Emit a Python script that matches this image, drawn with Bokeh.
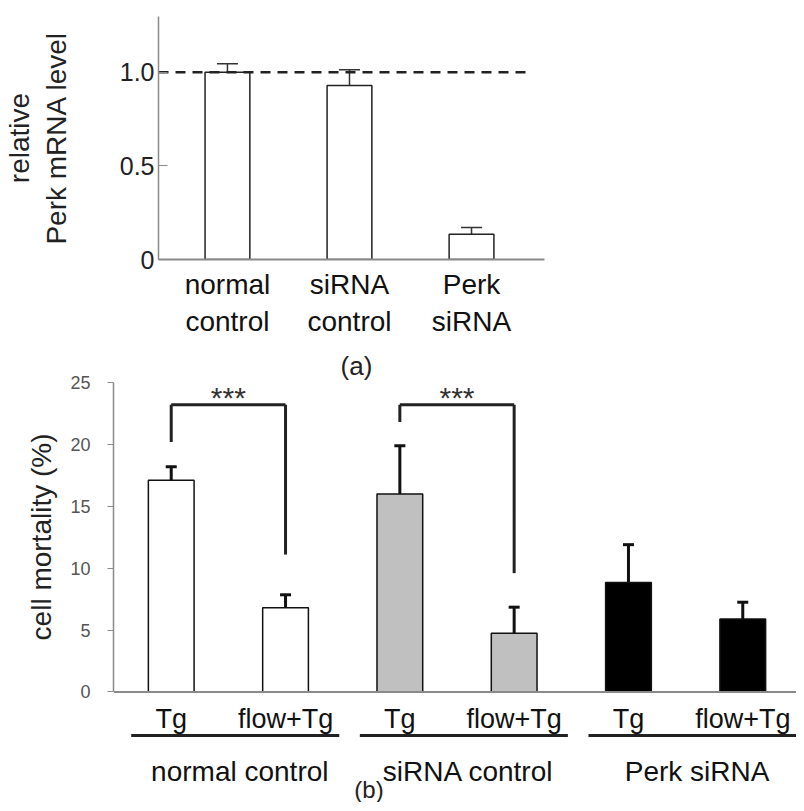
from bokeh.plotting import figure
from bokeh.models import Range1d, FixedTicker, Whisker, TeeHead, ColumnDataSource, Span, Title
from bokeh.embed import file_html
from bokeh.resources import INLINE
from bokeh.core.properties import value

# ---------------- data: panel (a) ----------------
a_categories = ["normal\ncontrol", "siRNA\ncontrol", "Perk\nsiRNA"]
a_values = [1.0, 0.93, 0.135]
a_err_upper = [1.045, 1.014, 0.171]
a_reference = 1.0
a_yticks = [0, 0.5, 1.0]
a_ytick_labels = ["0", "0.5", "1.0"]

# ---------------- data: panel (b) ----------------
b_groups = ["normal control", "siRNA control", "Perk siRNA"]
b_treatments = ["Tg", "flow+Tg"]
b_values = [17.1, 6.8, 16.0, 4.75, 8.85, 5.9]
b_err_upper = [18.2, 7.85, 19.9, 6.85, 11.9, 7.25]
b_group_colors = ["white", "#c0c0c0", "black"]
b_yticks = [0, 5, 10, 15, 20, 25]
b_sig_pairs = [(0, 1), (2, 3)]
b_sig_left_bottom = [20.2, 21.8]
b_sig_right_bottom = [11.1, 9.6]
b_sig_top = 23.2
b_sig_label = "***"

FONT = "Liberation Sans"
AXIS_GRAY = "#8a8a8a"

# ================= panel (a) =================
a_x = list(range(len(a_categories)))
pa = figure(width=796, height=345, output_backend="svg", toolbar_location=None,
            x_range=Range1d(-0.565, 2.598), y_range=Range1d(0, 1.298),
            min_border_left=148, min_border_right=252, min_border_top=16,
            min_border_bottom=86)
pa.outline_line_color = None
pa.grid.visible = False
pa.background_fill_color = "white"
pa.border_fill_color = "white"

pa.vbar(x=a_x, top=a_values, width=0.367, fill_color="white",
        line_color="#222222", line_width=1.5)
src_a = ColumnDataSource(dict(base=a_x, lower=a_values, upper=a_err_upper))
pa.add_layout(Whisker(base="base", lower="lower", upper="upper", source=src_a,
                      line_color="#333333", line_width=1.5,
                      upper_head=TeeHead(size=21, line_color="#333333", line_width=1.5),
                      lower_head=None))
pa.segment(x0=[-0.565], y0=[a_reference], x1=[2.45], y1=[a_reference],
           line_color="#222222", line_width=2.5, line_dash="10 7")

ya = pa.yaxis[0]
ya.ticker = FixedTicker(ticks=a_yticks)
ya.major_label_overrides = {t: l for t, l in zip(a_yticks, a_ytick_labels)}
ya.axis_line_color = AXIS_GRAY
ya.axis_line_width = 1.5
ya.major_tick_in = 9
ya.major_tick_out = 0
ya.major_tick_line_color = AXIS_GRAY
ya.minor_tick_line_color = None
ya.major_label_text_font = FONT
ya.major_label_text_font_size = "25px"
ya.major_label_text_color = "#222222"
ya.major_label_standoff = 4
ya.axis_label = "relative\nPerk mRNA level"
ya.axis_label_text_font = FONT
ya.axis_label_text_font_size = "28px"
ya.axis_label_text_font_style = "normal"
ya.axis_label_text_color = "#222222"
ya.axis_label_standoff = 45

xa = pa.xaxis[0]
xa.ticker = FixedTicker(ticks=a_x)
xa.major_label_overrides = {i: c for i, c in zip(a_x, a_categories)}
xa.axis_line_color = AXIS_GRAY
xa.axis_line_width = 2
xa.major_tick_in = 0
xa.major_tick_out = 0
xa.minor_tick_line_color = None
xa.major_label_text_font = FONT
xa.major_label_text_font_size = "28px"
xa.major_label_text_color = "#111111"
xa.major_label_standoff = 9

# ================= panel (b) =================
b_x = list(range(len(b_values)))
b_colors = [b_group_colors[i // 2] for i in b_x]
b_labels = [b_treatments[i % 2] for i in b_x]
pb = figure(width=796, height=457, output_backend="svg", toolbar_location=None,
            x_range=Range1d(-0.505, 5.47), y_range=Range1d(-8.93, 27.99),
            min_border_left=113, min_border_right=0, min_border_top=0,
            min_border_bottom=0)
pb.outline_line_color = None
pb.grid.visible = False
pb.xaxis.visible = False
pb.background_fill_color = "white"
pb.border_fill_color = "white"

# panel (a) caption sits in this canvas, just above panel (b)
pb.text(x=[1.62], y=[26.37], text=["(a)"], text_align="center",
        text_baseline="alphabetic", text_font=value(FONT), text_font_size="26px",
        text_color="#222222")

pb.add_layout(Span(location=0, dimension="width", line_color=AXIS_GRAY, line_width=2))
pb.vbar(x=b_x, top=b_values, width=0.40, fill_color=b_colors,
        line_color="#111111", line_width=1.5)
src_b = ColumnDataSource(dict(base=b_x, lower=b_values, upper=b_err_upper))
pb.add_layout(Whisker(base="base", lower="lower", upper="upper", source=src_b,
                      line_color="#111111", line_width=3,
                      upper_head=TeeHead(size=11, line_color="#111111", line_width=3),
                      lower_head=None))

# significance brackets
x0s, y0s, x1s, y1s = [], [], [], []
for (i, j), lb, rb in zip(b_sig_pairs, b_sig_left_bottom, b_sig_right_bottom):
    x0s += [i, i, j]
    y0s += [lb, b_sig_top, b_sig_top]
    x1s += [i, j, j]
    y1s += [b_sig_top, b_sig_top, rb]
pb.segment(x0=x0s, y0=y0s, x1=x1s, y1=y1s, line_color="#222222", line_width=3)
pb.text(x=[(i + j) / 2 for i, j in b_sig_pairs], y=[b_sig_top + 0.6] * len(b_sig_pairs),
        text=[b_sig_label] * len(b_sig_pairs), text_align="center",
        text_baseline="alphabetic", text_font=value(FONT), text_font_size="30px",
        text_color="#333333")

# category labels under the baseline
pb.text(x=b_x, y=[-2.22] * len(b_x), text=b_labels, text_align="center",
        text_baseline="alphabetic", text_font=value(FONT), text_font_size="27px",
        text_color="#111111")
g_start = [2 * g for g in range(len(b_groups))]
pb.segment(x0=[g - 0.35 for g in g_start], x1=[g + 1.47 for g in g_start],
           y0=[-3.51] * len(b_groups), y1=[-3.51] * len(b_groups),
           line_color="#222222", line_width=3)
pb.text(x=[g + 0.6 for g in g_start], y=[-6.4] * len(b_groups), text=b_groups,
        text_align="center", text_baseline="alphabetic", text_font=value(FONT),
        text_font_size="28px", text_color="#111111")
pb.text(x=[1.73], y=[-7.85], text=["(b)"], text_align="center",
        text_baseline="alphabetic", text_font=value(FONT), text_font_size="24px",
        text_color="#222222")

yb = pb.yaxis[0]
yb.bounds = (0, 25)
yb.ticker = FixedTicker(ticks=b_yticks)
yb.axis_line_color = AXIS_GRAY
yb.axis_line_width = 1.5
yb.major_tick_in = 0
yb.major_tick_out = 6
yb.major_tick_line_color = AXIS_GRAY
yb.minor_tick_line_color = None
yb.major_label_text_font = FONT
yb.major_label_text_font_size = "18px"
yb.major_label_text_color = "#555555"
yb.major_label_standoff = 17

pb.add_layout(Title(text="cell mortality (%)", align="right", offset=88, standoff=21,
                    text_font=FONT, text_font_size="28px", text_font_style="normal",
                    text_color="#222222"), "left")

open("out.html", "w").write(file_html([pa, pb], INLINE))
